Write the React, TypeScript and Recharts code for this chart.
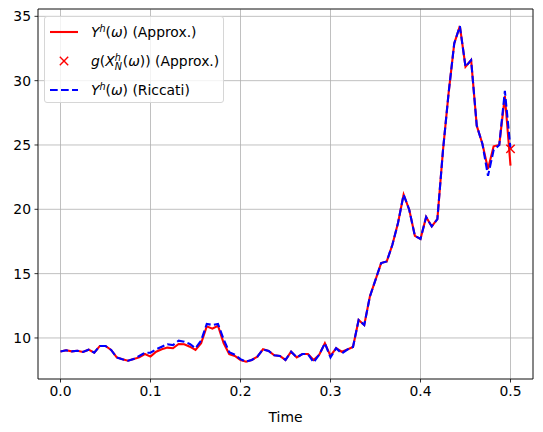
import React from "react";
import { LineChart, Line, XAxis, YAxis, CartesianGrid, ReferenceLine } from "recharts";

// time grid (step 0.00625)
const times = [
  0, 0.00625, 0.0125, 0.01875, 0.025, 0.03125, 0.0375, 0.04375, 0.05, 0.05625,
  0.0625, 0.06875, 0.075, 0.08125, 0.0875, 0.09375, 0.1, 0.10625, 0.1125, 0.11875,
  0.125, 0.13125, 0.1375, 0.14375, 0.15, 0.15625, 0.1625, 0.16875, 0.175, 0.18125,
  0.1875, 0.19375, 0.2, 0.20625, 0.2125, 0.21875, 0.225, 0.23125, 0.2375, 0.24375,
  0.25, 0.25625, 0.2625, 0.26875, 0.275, 0.28125, 0.2875, 0.29375, 0.3, 0.30625,
  0.3125, 0.31875, 0.325, 0.33125, 0.3375, 0.34375, 0.35, 0.35625, 0.3625, 0.36875,
  0.375, 0.38125, 0.3875, 0.39375, 0.4, 0.40625, 0.4125, 0.41875, 0.425, 0.43125,
  0.4375, 0.44375, 0.45, 0.45625, 0.4625, 0.46875, 0.475, 0.48125, 0.4875, 0.49375,
  0.5,
];

// Y^h(w) (Approx.)
const approxValues = [
  8.95, 9.04, 8.96, 9.01, 8.91, 9.09, 8.86, 9.38, 9.38, 9.07,
  8.49, 8.34, 8.23, 8.36, 8.49, 8.75, 8.55, 8.93, 9.12, 9.25,
  9.2, 9.53, 9.51, 9.32, 9.07, 9.59, 10.9, 10.72, 10.95, 9.6,
  8.75, 8.6, 8.29, 8.16, 8.29, 8.55, 9.12, 8.99, 8.65, 8.6,
  8.29, 8.93, 8.49, 8.75, 8.75, 8.29, 8.7, 9.59, 8.6, 9.2,
  8.93, 9.1, 9.3, 11.4, 11.01, 13.22, 14.52, 15.82, 15.95, 17.24,
  18.93, 21.14, 19.97, 17.94, 17.69, 19.4, 18.67, 19.24, 24.6, 29.05,
  32.9, 34.24, 31.08, 31.6, 26.5, 25.1, 23.14, 24.9, 25.0, 28.8,
  23.4,
];

// Y^h(w) (Riccati)
const riccatiValues = [
  8.95, 9.04, 8.96, 9.01, 8.91, 9.09, 8.86, 9.38, 9.38, 9.07,
  8.49, 8.34, 8.23, 8.36, 8.6, 8.85, 8.85, 9.12, 9.32, 9.51,
  9.45, 9.79, 9.71, 9.53, 9.2, 9.79, 11.09, 11.01, 11.09, 9.9,
  8.9, 8.7, 8.35, 8.16, 8.29, 8.55, 9.12, 8.99, 8.65, 8.6,
  8.29, 8.93, 8.49, 8.75, 8.75, 8.1, 8.7, 9.59, 8.49, 9.2,
  8.8, 9.1, 9.3, 11.4, 11.01, 13.22, 14.52, 15.82, 15.95, 17.24,
  18.93, 21.14, 19.97, 17.94, 17.69, 19.4, 18.67, 19.24, 24.6, 29.05,
  32.9, 34.24, 31.08, 31.6, 26.5, 25.1, 22.6, 24.6, 25.0, 29.2,
  24.7,
];

// g(X_N^h(w)) (Approx.) — terminal value only
const markerTime = 0.5;
const markerValue = 24.7;

const xTicks = [0, 0.1, 0.2, 0.3, 0.4, 0.5];
const yTicks = [10, 15, 20, 25, 30, 35];
const xDomain = [-0.025, 0.525];
const yDomain = [6.81, 35.57];

const data = times.map((t, i) => ({
  t,
  approx: approxValues[i],
  riccati: riccatiValues[i],
  g: t === markerTime ? markerValue : null,
}));

const FONT = "'DejaVu Sans', sans-serif";

const CrossDot = (props: any) => {
  const { cx, cy, payload, index } = props;
  if (cx == null || cy == null || payload?.g == null) return <g key={index} />;
  const r = 4.2;
  return (
    <g key={index} stroke="#ff0000" strokeWidth={1.4}>
      <line x1={cx - r} y1={cy - r} x2={cx + r} y2={cy + r} />
      <line x1={cx - r} y1={cy + r} x2={cx + r} y2={cy - r} />
    </g>
  );
};

const scriptStyle: React.CSSProperties = {
  position: "absolute",
  left: 0,
  fontSize: 9.7,
  lineHeight: 1,
  fontStyle: "italic",
};

const Yh = () => (
  <span>
    <i>Y</i>
    <span style={{ position: "relative", display: "inline-block", width: 6, height: 0 }}>
      <span style={{ ...scriptStyle, top: -13 }}>h</span>
    </span>
    (<i>ω</i>)
  </span>
);

const GX = () => (
  <span>
    <i>g</i>(<i>X</i>
    <span style={{ position: "relative", display: "inline-block", width: 8, height: 0 }}>
      <span style={{ ...scriptStyle, top: -13.5 }}>h</span>
      <span style={{ ...scriptStyle, top: -3.6 }}>N</span>
    </span>
    (<i>ω</i>)) (Approx.)
  </span>
);

const legendRows = [
  { key: "approx", label: <><Yh /> (Approx.)</>, y: 15 },
  { key: "g", label: <GX />, y: 44 },
  { key: "riccati", label: <><Yh /> (Riccati)</>, y: 72.5 },
];

const LegendBox = () => (
  <div
    style={{
      position: "absolute",
      left: 44,
      top: 16,
      width: 178,
      height: 85,
      border: "1px solid #d6d6d6",
      borderRadius: 3,
      background: "rgba(255,255,255,0.8)",
      fontFamily: FONT,
      fontSize: 13.9,
      color: "#000",
    }}
  >
    {legendRows.map((row) => (
      <div key={row.key} style={{ position: "absolute", left: 0, top: row.y - 10, height: 20, width: "100%" }}>
        <svg width={40} height={20} style={{ position: "absolute", left: 4, top: 0 }}>
          {row.key === "approx" && <line x1={1} y1={10} x2={29} y2={10} stroke="#ff0000" strokeWidth={2.1} />}
          {row.key === "riccati" && (
            <line x1={1} y1={10} x2={29} y2={10} stroke="#0000ff" strokeWidth={2.1} strokeDasharray="7.7 3.3" />
          )}
          {row.key === "g" && (
            <g stroke="#ff0000" strokeWidth={1.4}>
              <line x1={15 - 4.2} y1={10 - 4.2} x2={15 + 4.2} y2={10 + 4.2} />
              <line x1={15 - 4.2} y1={10 + 4.2} x2={15 + 4.2} y2={10 - 4.2} />
            </g>
          )}
        </svg>
        <div style={{ position: "absolute", left: 46, top: 0, height: 20, lineHeight: "20px", whiteSpace: "nowrap" }}>
          {row.label}
        </div>
      </div>
    ))}
  </div>
);

export default function App() {
  return (
    <div style={{ position: "absolute", left: 0, top: 0, width: 543, height: 432, background: "#fff" }}>
      <LineChart
        width={543}
        height={432}
        data={data}
        margin={{ top: 9, right: 10, left: 0, bottom: 0 }}
        style={{ fontFamily: FONT }}
      >
        <CartesianGrid stroke="#b0b0b0" strokeWidth={0.8} />
        <XAxis
          dataKey="t"
          type="number"
          domain={xDomain}
          ticks={xTicks}
          allowDataOverflow
          tickFormatter={(v: number) => v.toFixed(1)}
          height={53}
          tickSize={3.5}
          tickMargin={3.5}
          tick={{ fill: "#000", fontSize: 13.9 }}
          tickLine={{ stroke: "#000", strokeWidth: 0.8 }}
          axisLine={{ stroke: "#000", strokeWidth: 0.8 }}
          label={{ value: "Time", position: "insideBottom", offset: 10, fill: "#000", fontSize: 13.9 }}
        />
        <YAxis
          type="number"
          domain={yDomain}
          ticks={yTicks}
          allowDataOverflow
          width={38}
          tickSize={3.5}
          tickMargin={3.5}
          tick={{ fill: "#000", fontSize: 13.9 }}
          tickLine={{ stroke: "#000", strokeWidth: 0.8 }}
          axisLine={{ stroke: "#000", strokeWidth: 0.8 }}
        />
        <ReferenceLine y={yDomain[1]} stroke="#000" strokeWidth={0.8} />
        <ReferenceLine x={xDomain[1]} stroke="#000" strokeWidth={0.8} />
        <Line
          dataKey="approx"
          type="linear"
          stroke="#ff0000"
          strokeWidth={2.1}
          dot={false}
          activeDot={false}
          isAnimationActive={false}
        />
        <Line
          dataKey="g"
          type="linear"
          stroke="none"
          dot={CrossDot}
          activeDot={false}
          isAnimationActive={false}
        />
        <Line
          dataKey="riccati"
          type="linear"
          stroke="#0000ff"
          strokeWidth={2.1}
          strokeDasharray="7.7 3.3"
          dot={false}
          activeDot={false}
          isAnimationActive={false}
        />
      </LineChart>
      <LegendBox />
    </div>
  );
}
